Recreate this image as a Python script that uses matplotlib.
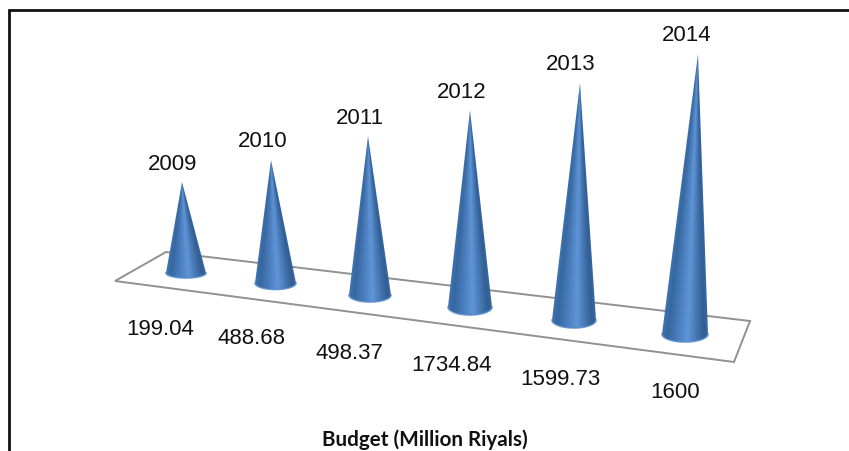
import numpy as np
import matplotlib
matplotlib.use("Agg")
import matplotlib.pyplot as plt
from matplotlib.colors import LinearSegmentedColormap
from matplotlib.patches import Polygon

# --- data ---
years = ["2009", "2010", "2011", "2012", "2013", "2014"]
budgets = ["199.04", "488.68", "498.37", "1734.84", "1599.73", "1600"]
cone_heights = [91, 123, 159, 197, 237, 280]   # drawn height of each cone

# --- layout (pixel space of the picture) ---
base_x = [186, 275.5, 370, 470, 574, 685]
base_y = [274, 284, 296, 308, 321, 335]
half_w = [20, 20.5, 21, 22, 22, 23]
half_h = [5, 6.5, 7, 8, 8, 8]
apex_x = [182, 271, 368, 470, 580, 698]
year_xy = [(172.5, 165), (263, 142), (360, 119), (462, 93), (571, 65), (687, 35.5)]
budget_xy = [(160, 329.5), (251.5, 339), (349, 353.5), (452, 366), (560, 380), (675, 393)]
floor = [(115, 282), (166, 253), (750, 322), (734, 363)]

plt.rcParams["font.family"] = ["Liberation Sans", "DejaVu Sans"]
fig = plt.figure(figsize=(8.49, 4.52), dpi=100)
ax = fig.add_axes([0, 0, 1, 1])
ax.axis("off")

# outer frame: top and left only, runs off the picture
ax.plot([9, 9, 849], [452, 11, 11], color="#111111", lw=2.0, solid_joinstyle="miter", zorder=1)

# floor of the 3-D chart
ax.add_patch(Polygon(floor, closed=True, fc="white", ec="#919191", lw=1.4, zorder=2))

shade = LinearSegmentedColormap.from_list(
    "cone",
    [(0.00, "#3f74b2"), (0.12, "#36679f"), (0.35, "#4a7ebd"), (0.56, "#5f95d8"),
     (0.75, "#4677b2"), (0.92, "#315e93"), (1.00, "#3a69a1")],
)

for bx, by, rx, ry, tip_x, h in zip(base_x, base_y, half_w, half_h, apex_x, cone_heights):
    tip_y = by - h
    # outline: apex plus the front half of the base ellipse
    t = np.linspace(np.pi, 0, 80)
    px = bx + rx * np.cos(t)
    py = by + ry * np.sin(t)
    outline = np.vstack([[tip_x, tip_y], np.column_stack([px, py])])
    clip = Polygon(outline, closed=True, fc="none", ec="none", transform=ax.transData, zorder=3)
    ax.add_patch(clip)

    # smooth shading: position across the cone at each height
    x0, x1 = min(bx - rx, tip_x) - 1, max(bx + rx, tip_x) + 1
    y0, y1 = tip_y - 1, by + ry + 1
    gx, gy = np.meshgrid(np.linspace(x0, x1, int((x1 - x0) * 4)),
                         np.linspace(y0, y1, int((y1 - y0) * 2)))
    frac = np.clip((gy - tip_y) / h, 0.002, 1.0)
    cx = tip_x + (bx - tip_x) * frac
    s = np.clip((gx - cx) / (rx * frac), -1, 1)
    im = ax.imshow((s + 1) / 2, cmap=shade, vmin=0, vmax=1, extent=(x0, x1, y1, y0),
                   aspect="auto", interpolation="bilinear", zorder=3)
    im.set_clip_path(clip)
    # lighter rim along the front of the base
    ax.plot(px, py, color="#5288c8", lw=1.2, zorder=4, alpha=0.8)

ax.set_xlim(0, 849)
ax.set_ylim(452, 0)

for label, (x, y) in zip(years, year_xy):
    ax.text(x, y, label, ha="center", va="center", fontsize=16, color="#111111", zorder=5)
for label, (x, y) in zip(budgets, budget_xy):
    ax.text(x, y, label, ha="center", va="center", fontsize=16, color="#111111", zorder=5)

ax.text(424.5, 440, "Budget (Million Riyals)", ha="center", va="center", fontsize=14.9,
        fontweight="bold", family=["Lato", "DejaVu Sans"], color="#111111", zorder=5)

fig.savefig("out.png", dpi=100)
